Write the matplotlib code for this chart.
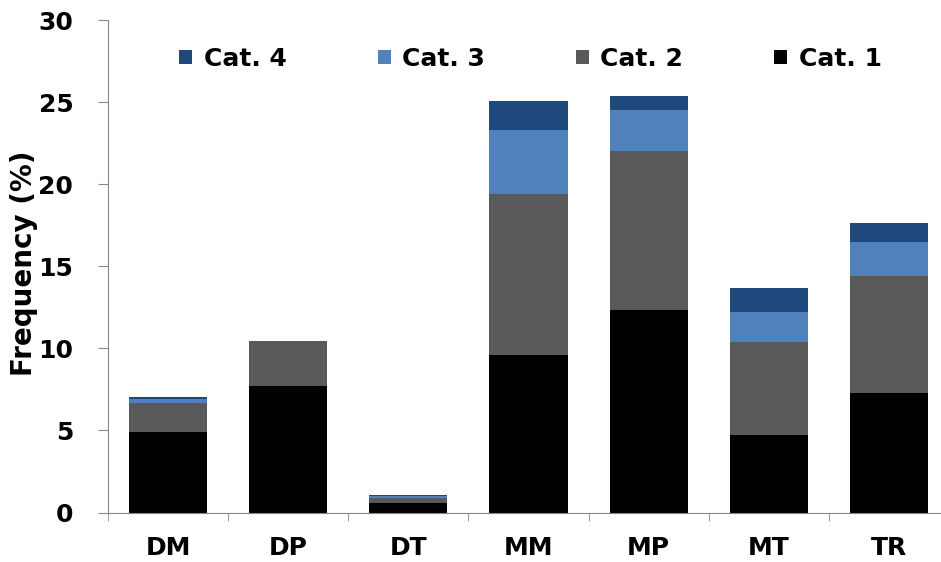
import matplotlib.pyplot as plt
import numpy as np

categories = ["DM", "DP", "DT", "MM", "MP", "MT", "TR"]
cat1 = [4.9, 7.7, 0.55, 9.6, 12.35, 4.7, 7.3]
cat2 = [1.75, 2.75, 0.35, 9.8, 9.7, 5.7, 7.1]
cat3 = [0.25, 0.0, 0.1, 3.9, 2.45, 1.8, 2.1]
cat4 = [0.12, 0.0, 0.07, 1.75, 0.85, 1.45, 1.15]
series_names = ["Cat. 1", "Cat. 2", "Cat. 3", "Cat. 4"]
colors = ["#000000", "#595959", "#4F81BD", "#1F497D"]


def main():
    fig = plt.figure(figsize=(9.41, 5.62), dpi=100)
    ax = fig.add_axes([108 / 941, 49.5 / 562, 841 / 941, 492.5 / 562])

    x = np.arange(len(categories))
    bottom = np.zeros(len(categories))
    handles = []
    for vals, name, col in zip([cat1, cat2, cat3, cat4], series_names, colors):
        b = ax.bar(x, vals, 0.65, bottom=bottom, color=col, label=name)
        handles.append(b)
        bottom += np.array(vals)

    ax.set_xlim(-0.5, len(categories) - 0.5)
    ax.set_ylim(0, 30)
    ax.set_yticks([0, 5, 10, 15, 20, 25, 30])
    ax.set_xticks(x)
    ax.set_xticklabels(categories, fontsize=18, fontweight="bold")
    ax.set_xticks(np.arange(-0.5, len(categories), 1), minor=True)
    ax.tick_params(axis="x", which="major", length=0, pad=17)
    ax.tick_params(axis="x", which="minor", length=6, color="#888888", direction="out")
    ax.tick_params(axis="y", length=7, color="#888888", direction="out", pad=18)
    for lbl in ax.get_yticklabels():
        lbl.set_fontsize(18)
        lbl.set_fontweight("bold")

    for s in ["top", "right"]:
        ax.spines[s].set_visible(False)
    ax.spines["left"].set_color("#888888")
    ax.spines["bottom"].set_color("#888888")

    ax.set_ylabel("Frequency (%)", fontsize=20, fontweight="bold")
    ax.yaxis.set_label_coords(-0.083, 0.507)

    # legend in reversed order: Cat. 4 ... Cat. 1
    ax.legend(handles[::-1], series_names[::-1], ncol=4, loc="center left",
              bbox_to_anchor=(0.07, 0.921), frameon=False,
              prop={"weight": "bold", "size": 18},
              handlelength=0.52, handleheight=0.52, handletextpad=0.45,
              columnspacing=3.65, borderpad=0)

    fig.savefig("out.png", dpi=100)


if __name__ == "__main__":
    main()
